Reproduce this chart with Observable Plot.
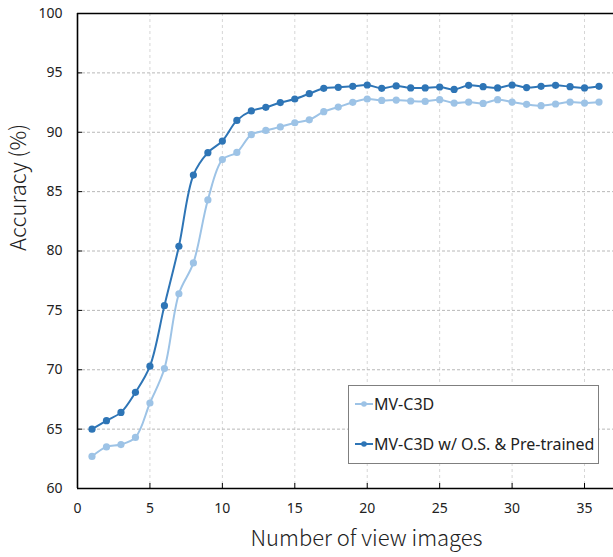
<!DOCTYPE html>
<html>
<head>
<meta charset="utf-8">
<script src="https://cdn.jsdelivr.net/npm/d3@7"></script>
<script src="https://cdn.jsdelivr.net/npm/@observablehq/plot@0.6"></script>
<style>
  html, body { margin: 0; padding: 0; background: #fff; overflow: hidden; }
  #wrap { position: relative; width: 613px; height: 557px; }
  #legend { position: absolute; left: 348px; top: 385px; width: 251px; height: 79px;
    border: 1px solid #7f7f7f; background: #fff; box-sizing: border-box;
    font-family: "Noto Sans", sans-serif; font-weight: 400; font-size: 16px; color: #222; }
  .item { position: absolute; left: 6px; display: flex; align-items: center; white-space: nowrap; line-height: 20px; }
  .item svg { margin-right: 1px; }
</style>
</head>
<body>
<div id="wrap"></div>
<script>
const views = d3.range(1, 37);
const mvC3D = [62.7, 63.5, 63.7, 64.3, 67.2, 70.1, 76.4, 79.0, 84.3, 87.7,
  88.3, 89.8, 90.15, 90.45, 90.8, 91.05, 91.73, 92.12, 92.52, 92.8,
  92.68, 92.71, 92.63, 92.6, 92.74, 92.46, 92.54, 92.43, 92.74, 92.54,
  92.35, 92.24, 92.38, 92.54, 92.46, 92.54];
const mvC3DOS = [65.0, 65.71, 66.41, 68.1, 70.3, 75.4, 80.4, 86.39, 88.28, 89.26,
  91.0, 91.8, 92.1, 92.5, 92.8, 93.25, 93.7, 93.78, 93.87, 93.98,
  93.7, 93.9, 93.73, 93.73, 93.81, 93.61, 93.95, 93.84, 93.73, 93.98,
  93.76, 93.87, 93.95, 93.84, 93.73, 93.87];
const seriesNames = ["MV-C3D", "MV-C3D w/ O.S. & Pre-trained"];
const seriesColors = ["#9dc3e6", "#2e75b6"];
const xTicks = [0, 5, 10, 15, 20, 25, 30, 35];
const yTicks = [60, 65, 70, 75, 80, 85, 90, 95, 100];
const xTitle = "Number of view images";
const yTitle = "Accuracy (%)";

const light = views.map((v, i) => ({x: v, y: mvC3D[i]}));
const dark = views.map((v, i) => ({x: v, y: mvC3DOS[i]}));

const tickFont = {fontFamily: "'Noto Sans', sans-serif", fontSize: 14, fill: "#222"};
const titleFont = {fontFamily: "'Noto Sans CJK SC', sans-serif", fontWeight: 300, fontSize: 22, fill: "#222"};

const chart = Plot.plot({
  width: 613,
  height: 557,
  marginLeft: 77,
  marginRight: 0,
  marginTop: 13,
  marginBottom: 69,
  style: {fontFamily: "'Noto Sans', sans-serif", fontSize: "14px", color: "#222", background: "#fff"},
  x: {domain: [0, 37]},
  y: {domain: [60, 100]},
  marks: [
    Plot.gridX(xTicks.slice(1), {stroke: "#d6d6d6", strokeOpacity: 1, strokeDasharray: "3,3"}),
    Plot.gridY(yTicks.slice(1, -1), {stroke: "#b8b8b8", strokeOpacity: 1, strokeDasharray: "3,2"}),
    Plot.axisX(xTicks, {tickSize: 0, tickPadding: 15, label: null, ...tickFont}),
    Plot.axisX(xTicks.slice(1), {tickSize: -5, tickFormat: () => "", label: null, stroke: "#000"}),
    Plot.axisY(yTicks, {tickSize: 0, tickPadding: 15, label: null, ...tickFont}),
    Plot.axisY(yTicks.slice(1, -1), {tickSize: -5, tickFormat: () => "", label: null, stroke: "#000"}),
    Plot.ruleY([60, 100], {stroke: "#000", strokeWidth: 1.6}),
    Plot.ruleX([0], {stroke: "#000", strokeWidth: 1.6}),
    Plot.line(light, {x: "x", y: "y", stroke: seriesColors[0], strokeWidth: 2, curve: "catmull-rom"}),
    Plot.dot(light, {x: "x", y: "y", fill: seriesColors[0], r: 3.6}),
    Plot.line(dark, {x: "x", y: "y", stroke: seriesColors[1], strokeWidth: 2, curve: "catmull-rom"}),
    Plot.dot(dark, {x: "x", y: "y", fill: seriesColors[1], r: 3.6}),
    Plot.text([xTitle], {frameAnchor: "bottom", dx: 21, dy: 57, text: d => d, ...titleFont}),
    Plot.text([yTitle], {frameAnchor: "left", dx: -59, rotate: -90, text: d => d, ...titleFont})
  ]
});

const wrap = document.getElementById("wrap");
wrap.appendChild(chart);

const legend = document.createElement("div");
legend.id = "legend";
seriesNames.forEach((name, i) => {
  const item = document.createElement("div");
  item.className = "item";
  item.style.top = (i === 0 ? 8 : 48) + "px";
  item.innerHTML = `<svg width="18" height="10"><line x1="0" x2="18" y1="5" y2="5" stroke="${seriesColors[i]}" stroke-width="2"/><circle cx="9" cy="5" r="2.8" fill="${seriesColors[i]}"/></svg><span>${name}</span>`;
  legend.appendChild(item);
});
wrap.appendChild(legend);
</script>
</body>
</html>
